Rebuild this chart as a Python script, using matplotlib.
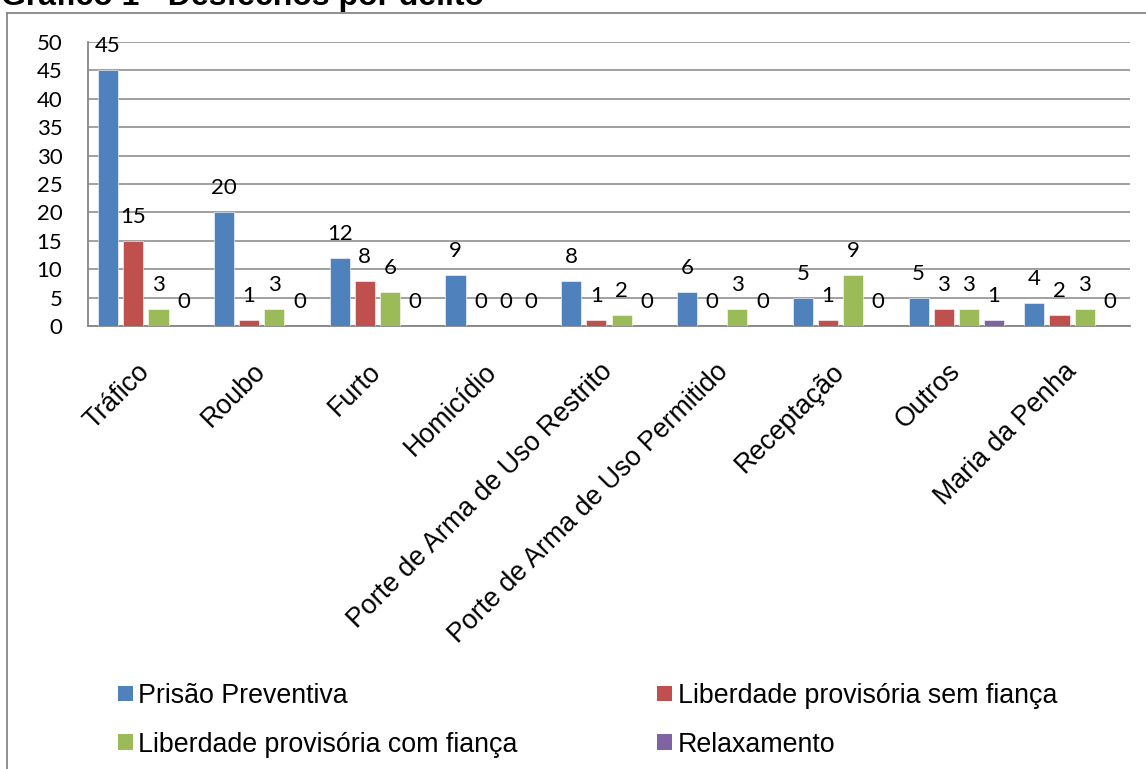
import matplotlib.pyplot as plt
import numpy as np
from matplotlib.lines import Line2D
from matplotlib.patches import Patch

# ==== dados ====
delitos = ["Tráfico", "Roubo", "Furto", "Homicídio", "Porte de Arma de Uso Restrito",
           "Porte de Arma de Uso Permitido", "Receptação", "Outros", "Maria da Penha"]
series_names = ["Prisão Preventiva", "Liberdade provisória sem fiança",
                "Liberdade provisória com fiança", "Relaxamento"]
prisao_preventiva = [45, 20, 12, 9, 8, 6, 5, 5, 4]
sem_fianca = [15, 1, 8, 0, 1, 0, 1, 3, 2]
com_fianca = [3, 3, 6, 0, 2, 3, 9, 3, 3]
relaxamento = [0, 0, 0, 0, 0, 0, 0, 1, 0]
y_ticks = [0, 5, 10, 15, 20, 25, 30, 35, 40, 45, 50]

colors = ["#4F81BD", "#C0504D", "#9BBB59", "#8064A2"]
series = [prisao_preventiva, sem_fianca, com_fianca, relaxamento]

W, H = 1146, 769
fig = plt.figure(figsize=(W / 100, H / 100), dpi=100)
ax = fig.add_axes([88 / W, 1 - 326 / H, (1130 - 88) / W, (326 - 42) / H])

# ==== barras ====
x = np.arange(len(delitos))
w = 1 / 5.75
for k, (vals, c) in enumerate(zip(series, colors)):
    pos = x + (k - 1.5) * 1.25 * w
    ax.bar(pos, vals, width=w, color=c, edgecolor="white", linewidth=0.4, zorder=3)
    for px, v in zip(pos, vals):
        ax.annotate(str(v), (px, v), xytext=(0, 13), textcoords="offset points",
                    ha="center", va="baseline", fontsize=16, family="Lato", zorder=4)

ax.set_xlim(-0.5, len(delitos) - 0.5)
ax.set_ylim(0, 50)
ax.set_yticks(y_ticks)
ax.set_yticklabels([str(t) for t in y_ticks], fontsize=16, family="Lato")
ax.yaxis.grid(True, color="#868686", linewidth=1.1, zorder=0)
ax.tick_params(axis="y", length=0, pad=18.5)
ax.set_xticks(x)
ax.set_xticklabels(delitos, rotation=45, ha="right", va="center",
                   rotation_mode="anchor", fontsize=19.3, family="Liberation Sans")
ax.tick_params(axis="x", length=0, pad=30)
for s in ["top", "right"]:
    ax.spines[s].set_visible(False)
for s in ["left", "bottom"]:
    ax.spines[s].set_color("#868686")
    ax.spines[s].set_linewidth(1.3)

# ==== moldura externa ====
fig.add_artist(Line2D([7 / W, 1], [1 - 13 / H, 1 - 13 / H], color="#868686", lw=1.3))
fig.add_artist(Line2D([7 / W, 7 / W], [0, 1 - 13 / H], color="#868686", lw=1.3))

# ==== título (cortado no topo, como no original) ====
fig.text(1 / W, 1 - 5 / H, "Gráfico 1 - Desfechos por delito", fontsize=23,
         fontweight="bold", family="Liberation Sans", ha="left", va="baseline")

# ==== legenda ====
handles = [Patch(facecolor=c) for c in colors]
order = [0, 2, 1, 3]
leg = fig.legend([handles[i] for i in order], [series_names[i] for i in order],
                 ncol=2, loc="upper left", bbox_to_anchor=(118 / W, 1 - 683 / H),
                 frameon=False, prop={"family": "Liberation Sans", "size": 19.3},
                 handlelength=0.56, handleheight=0.52, handletextpad=0.2,
                 columnspacing=5.2, labelspacing=0.85, borderpad=0, borderaxespad=0)

fig.savefig("out.png", dpi=100)
